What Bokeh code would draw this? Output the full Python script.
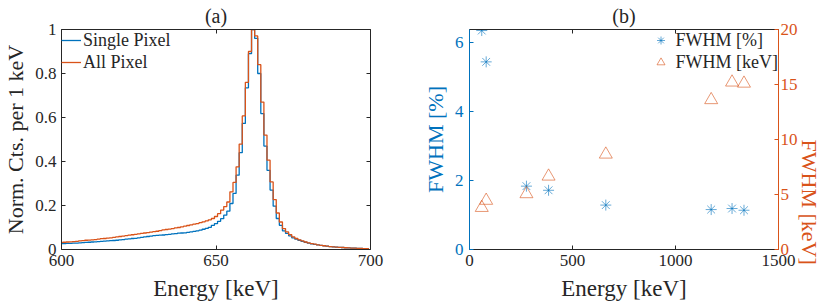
import math
from bokeh.plotting import figure
from bokeh.models import LinearAxis, Range1d, FixedTicker, Legend, LegendItem
from bokeh.layouts import row
from bokeh.embed import file_html
from bokeh.resources import INLINE

# ---------------- data ----------------
# panel (a): 1 keV bins, bin centres in keV
energy_bins = list(range(600, 700))
single_pixel = [
    0.027, 0.027, 0.028, 0.028, 0.029, 0.029, 0.030, 0.031, 0.032, 0.033,
    0.034, 0.035, 0.036, 0.037, 0.038, 0.039, 0.040, 0.041, 0.042, 0.044,
    0.045, 0.047, 0.048, 0.050, 0.051, 0.053, 0.055, 0.057, 0.059, 0.061,
    0.063, 0.064, 0.065, 0.066, 0.068, 0.069, 0.071, 0.072, 0.074, 0.075,
    0.076, 0.078, 0.080, 0.082, 0.085, 0.088, 0.092, 0.096, 0.101, 0.110,
    0.118, 0.128, 0.140, 0.156, 0.174, 0.209, 0.255, 0.338, 0.440, 0.573,
    0.735, 0.890, 1.000, 0.960, 0.800, 0.618, 0.470, 0.360, 0.270, 0.197,
    0.141, 0.110, 0.085, 0.073, 0.062, 0.053, 0.047, 0.042, 0.037, 0.033,
    0.029, 0.026, 0.023, 0.021, 0.019, 0.017, 0.015, 0.013, 0.012, 0.011,
    0.010, 0.009, 0.008, 0.007, 0.006, 0.006, 0.005, 0.005, 0.004, 0.004,
]
all_pixel = [
    0.032, 0.033, 0.034, 0.035, 0.036, 0.037, 0.039, 0.040, 0.042, 0.043,
    0.044, 0.045, 0.047, 0.049, 0.050, 0.052, 0.053, 0.055, 0.057, 0.059,
    0.061, 0.063, 0.065, 0.067, 0.069, 0.071, 0.073, 0.075, 0.077, 0.079,
    0.081, 0.083, 0.086, 0.089, 0.091, 0.093, 0.095, 0.098, 0.100, 0.103,
    0.106, 0.109, 0.112, 0.115, 0.118, 0.122, 0.126, 0.130, 0.135, 0.141,
    0.150, 0.163, 0.179, 0.195, 0.216, 0.262, 0.305, 0.376, 0.479, 0.607,
    0.760, 0.900, 1.000, 0.971, 0.840, 0.670, 0.520, 0.406, 0.307, 0.227,
    0.166, 0.125, 0.095, 0.080, 0.068, 0.057, 0.050, 0.044, 0.039, 0.034,
    0.030, 0.027, 0.024, 0.021, 0.019, 0.017, 0.015, 0.013, 0.012, 0.011,
    0.010, 0.009, 0.008, 0.007, 0.006, 0.006, 0.005, 0.005, 0.004, 0.004,
]
xticks_a = [600, 650, 700]
yticks_a = [0, 0.2, 0.4, 0.6, 0.8, 1]
ylabels_a = {0: "0", 0.2: "0.2", 0.4: "0.4", 0.6: "0.6", 0.8: "0.8", 1: "1"}

# panel (b)
line_energy = [59.5, 81.0, 276.4, 383.8, 661.7, 1173.2, 1274.5, 1332.5]
fwhm_percent = [6.36, 5.45, 1.84, 1.72, 1.29, 1.16, 1.19, 1.14]
fwhm_kev = [3.8, 4.45, 5.05, 6.65, 8.65, 13.6, 15.2, 15.1]
xticks_b = [0, 500, 1000, 1500]
yticks_b_left = [0, 2, 4, 6]
yticks_b_right = [0, 5, 10, 15, 20]

# ---------------- style ----------------
FONT = "Liberation Serif"
TXT = "#262626"
BLUE = "#0072BD"
ORANGE = "#D95319"
TICK_FS = "17px"
LAB_FS = "22px"


def style_axis(ax, color, ticks, label=None, show_labels=True, std=5, lstd=4, lab_fs=LAB_FS):
    ax.ticker = FixedTicker(ticks=ticks)
    ax.axis_line_color = color
    ax.axis_line_width = 1
    ax.major_tick_line_color = color
    ax.major_tick_in = 4
    ax.major_tick_out = 0
    ax.minor_tick_line_color = None
    ax.major_label_text_font = FONT
    ax.major_label_text_color = color
    ax.major_label_text_font_size = TICK_FS
    if show_labels:
        ax.major_label_standoff = std
    else:
        ax.major_label_overrides = {t: "" for t in ticks}
        ax.major_label_standoff = 0
    if label is not None:
        ax.axis_label = label
        ax.axis_label_text_font = FONT
        ax.axis_label_text_font_size = lab_fs
        ax.axis_label_text_font_style = "normal"
        ax.axis_label_text_color = color
        ax.axis_label_standoff = lstd


def style_title(p):
    p.title.text_font = FONT
    p.title.text_font_size = "20px"
    p.title.text_font_style = "normal"
    p.title.text_color = TXT
    p.title.align = "center"
    p.title.standoff = 5


# ---------------- panel (a) ----------------
p1 = figure(width=410, height=305, x_range=Range1d(600, 700), y_range=Range1d(0, 1),
            output_backend="svg", toolbar_location=None, title="(a)",
            min_border_left=57, min_border_right=40, min_border_top=29, min_border_bottom=56)
style_title(p1)
p1.xgrid.visible = False
p1.ygrid.visible = False
p1.outline_line_color = None

xs = [c - 0.5 for c in energy_bins] + [energy_bins[-1] + 0.5]
r_single = p1.step(xs, single_pixel + [single_pixel[-1]], mode="after", line_color=BLUE, line_width=1.3)
r_all = p1.step(xs, all_pixel + [all_pixel[-1]], mode="after", line_color=ORANGE, line_width=1.3)

style_axis(p1.xaxis[0], TXT, xticks_a, "Energy [keV]", std=5, lstd=7, lab_fs="23px")
style_axis(p1.yaxis[0], TXT, yticks_a, "Norm. Cts. per 1 keV", std=5, lstd=4)
p1.yaxis[0].major_label_overrides = ylabels_a
top1 = LinearAxis()
style_axis(top1, TXT, xticks_a, show_labels=False)
p1.add_layout(top1, "above")
right1 = LinearAxis()
style_axis(right1, TXT, yticks_a, show_labels=False)
p1.add_layout(right1, "right")

leg1 = Legend(items=[LegendItem(label="Single Pixel", renderers=[r_single]),
                     LegendItem(label="All Pixel", renderers=[r_all])],
              location="top_left", border_line_color=None, background_fill_alpha=0,
              label_text_font=FONT, label_text_font_size="18px", label_text_color=TXT,
              glyph_width=20, glyph_height=22, label_height=22, spacing=0, padding=6,
              margin=0, label_standoff=2)
p1.add_layout(leg1, "center")

# ---------------- panel (b) ----------------
p2 = figure(width=427, height=305, x_range=Range1d(0, 1500), y_range=Range1d(0, 6.39),
            output_backend="svg", toolbar_location=None, title="(b)",
            min_border_left=59, min_border_right=55, min_border_top=29, min_border_bottom=56)
style_title(p2)
p2.extra_y_ranges = {"kev": Range1d(0, 20)}
p2.xgrid.visible = False
p2.ygrid.visible = False
p2.outline_line_color = None

r_pct = p2.scatter(line_energy, fwhm_percent, marker="asterisk", size=11,
                   line_color=BLUE, line_alpha=0.6, line_width=1)
r_kev = p2.scatter(line_energy, fwhm_kev, marker="triangle", size=13, y_range_name="kev",
                   fill_color=None, line_color=ORANGE, line_alpha=0.6, line_width=1)

style_axis(p2.xaxis[0], TXT, xticks_b, "Energy [keV]", std=5, lstd=7, lab_fs="23px")
style_axis(p2.yaxis[0], BLUE, yticks_b_left, "FWHM [%]", std=6, lstd=4)
right2 = LinearAxis(y_range_name="kev")
style_axis(right2, ORANGE, yticks_b_right, "FWHM [keV]", std=2, lstd=9)
right2.axis_label_orientation = -math.pi / 2
p2.add_layout(right2, "right")
top2 = LinearAxis()
style_axis(top2, TXT, xticks_b, show_labels=False)
p2.add_layout(top2, "above")

leg2 = Legend(items=[LegendItem(label="FWHM [%]", renderers=[r_pct]),
                     LegendItem(label="FWHM [keV]", renderers=[r_kev])],
              location="top_right", border_line_color=None, background_fill_alpha=0,
              label_text_font=FONT, label_text_font_size="18px", label_text_color=TXT,
              glyph_width=20, glyph_height=22, label_height=22, spacing=0, padding=6,
              margin=0, label_standoff=5)
p2.add_layout(leg2, "center")

layout = row(p1, p2)

open("out.html", "w").write(file_html(layout, INLINE))
